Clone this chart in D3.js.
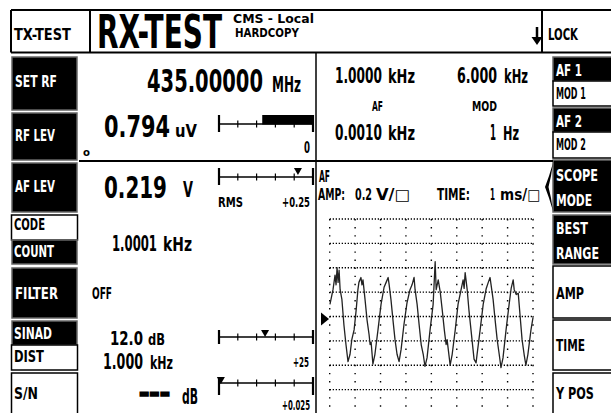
<!DOCTYPE html>
<html><head><meta charset="utf-8">
<script src="https://cdn.jsdelivr.net/npm/d3@7"></script>
<style>html,body{margin:0;padding:0;background:#fff;overflow:hidden}</style>
</head><body>
<svg id="c" width="611" height="413"></svg>
<script>
// ---------- DATA ----------
const traceTime = [0.01,0.13,0.21,0.25,0.29,0.33,0.37,0.41,0.48,0.56,0.64,0.72,0.80,0.87,0.96,1.04,1.11,1.15,1.23,1.27,1.31,1.39,1.47,1.55,1.59,1.63,1.70,1.78,1.90,2.02,2.14,2.22,2.30,2.34,2.41,2.49,2.57,2.65,2.73,2.81,2.92,3.04,3.16,3.24,3.32,3.36,3.44,3.52,3.60,3.68,3.75,3.83,3.95,4.07,4.15,4.19,4.23,4.27,4.35,4.43,4.51,4.58,4.62,4.74,4.82,4.94,5.05,5.17,5.25,5.29,5.33,5.41,5.48,5.56,5.64,5.68,5.76,5.80,5.92,6.04,6.16,6.24,6.31,6.35,6.43,6.51,6.59,6.67,6.74,6.82,6.94,7.06,7.14,7.22,7.26,7.34,7.42,7.49,7.57,7.65,7.72,7.80,7.92,8.00];
const traceVolts = [0.10,0.22,0.34,0.26,0.40,0.28,0.38,0.22,0.14,-0.07,-0.23,-0.37,-0.31,-0.19,-0.11,0.05,0.22,0.28,0.32,0.26,0.30,0.14,-0.03,-0.15,-0.23,-0.21,-0.39,-0.31,-0.11,0.10,0.24,0.28,0.32,0.26,0.14,-0.03,-0.19,-0.31,-0.37,-0.27,-0.07,0.11,0.22,0.26,0.32,0.22,0.10,-0.07,-0.23,-0.31,-0.41,-0.34,-0.11,0.10,0.45,0.22,0.26,0.30,0.20,0.05,-0.11,-0.23,-0.19,-0.40,-0.31,-0.11,0.10,0.22,0.30,0.23,0.36,0.22,0.05,-0.11,-0.27,-0.35,-0.38,-0.31,-0.11,0.10,0.23,0.28,0.32,0.26,0.14,-0.03,-0.19,-0.31,-0.42,-0.34,-0.11,0.10,0.23,0.30,0.22,0.18,0.19,0.01,-0.19,-0.31,-0.40,-0.31,-0.11,-0.01];
const gridTimeTicks = [0,1,2,3,4,5,6,7,8];          // ms (1 ms/div)
const gridVoltTicks = [-0.6,-0.4,-0.2,0,0.2,0.4,0.6,0.8]; // V (0.2 V/div)
const meterTicks = [0,1,2,3,4,5];
const rfLevelBar = [2.3, 5];
const afLevMarker = 4.2;
const sinadMarker = 2.45;
const snMarker = 0.1;
const leftKeys = ["SET RF","RF LEV","AF LEV","CODE","COUNT","FILTER","SINAD","DIST","S/N"];
const rightKeys = ["AF 1","MOD 1","AF 2","MOD 2","SCOPE","MODE","BEST","RANGE","AMP","TIME","Y POS"];

// ---------- DRAW ----------
const FONT = "'DejaVu Sans Condensed','DejaVu Sans',sans-serif";
const svg = d3.select('#c').attr('font-family', FONT).attr('font-weight','bold');
svg.append('rect').attr('width',611).attr('height',413).attr('fill','#fff');

// text fitted to a target width by a horizontal scale
function txt(s, x, y, size, opt={}) {
  const g = svg.append('g').attr('transform', `translate(${x},${y})`);
  const t = g.append('text').attr('x',0).attr('y',0).attr('font-size',size).text(s)
    .attr('fill', opt.fill||'#000').attr('text-anchor', opt.anchor||'start');
  if (opt.stroke) t.attr('stroke', opt.fill||'#000').attr('stroke-width', opt.stroke);
  if (opt.w) {
    const nat = t.node().getComputedTextLength();
    if (nat > 0) g.attr('transform', `translate(${x},${y}) scale(${opt.w/nat},1)`);
  }
  return t;
}
function line(x1,y1,x2,y2,w=1.5,c='#000'){
  svg.append('line').attr('x1',x1).attr('y1',y1).attr('x2',x2).attr('y2',y2)
    .attr('stroke',c).attr('stroke-width',w);
}
function box(x,y,w,h,black){
  svg.append('rect').attr('x',x).attr('y',y).attr('width',w).attr('height',h)
    .attr('fill', black?'#000':'#fff').attr('stroke', black?'#666':'#000').attr('stroke-width',1.5);
}

// header
line(11,10,611,10,2); line(11,52.5,611,52.5,2);
line(11,10,11,52.5,2); line(90,10,90,52.5,2); line(542,10,542,52.5,2);
txt("TX-TEST",14,40,16,{w:57});
txt("RX-TEST",97,48,46,{w:125});
txt("CMS - Local",233,22.5,12.5,{w:81});
txt("HARDCOPY",235,36.5,12.5,{w:64});
txt("LOCK",548,40,16,{w:30});
svg.append('line').attr('x1',537).attr('y1',27).attr('x2',537).attr('y2',39).attr('stroke','#000').attr('stroke-width',2.5);
svg.append('path').attr('d','M531.5,37 L542.5,37 L537,45 Z').attr('fill','#000');

// left buttons
box(12,57,65,53,true);  txt(leftKeys[0],15,87,16.5,{w:42,fill:'#fff'});
box(12,113,65,47,true); txt(leftKeys[1],15,141,16.5,{w:40,fill:'#fff'});
box(12,163,65,49,true); txt(leftKeys[2],15,192,16.5,{w:40,fill:'#fff'});
box(11.5,215,66,25,false); box(12,240,65,24,true);
txt(leftKeys[3],14,230,16.5,{w:31}); txt(leftKeys[4],14,257,16.5,{w:40,fill:'#fff'});
box(12,268,65,50,true); txt(leftKeys[5],15,299,16.5,{w:43,fill:'#fff'});
box(12,321,65,24,true); box(11.5,345,66,25,false);
txt(leftKeys[6],14,339,16.5,{w:38,fill:'#fff'}); txt(leftKeys[7],14,362,16.5,{w:30});
box(11.5,373,66,45,false); txt(leftKeys[8],14,399,16.5,{w:24});

// right buttons
box(553,57,62,24,true); box(553,81,62,25,false);
txt(rightKeys[0],556,76,16.5,{w:26,fill:'#fff'}); txt(rightKeys[1],556,99,16.5,{w:30});
box(553,108,62,24,true); box(553,132,62,26,false);
txt(rightKeys[2],556,127,16.5,{w:26,fill:'#fff'}); txt(rightKeys[3],556,150,16.5,{w:30});
box(553,160,62,52,true);
txt(rightKeys[4],556,181,16.5,{w:42,fill:'#fff'}); txt(rightKeys[5],556,206,16.5,{w:36,fill:'#fff'});
box(553,215,62,49,true);
txt(rightKeys[6],556,234,16.5,{w:32,fill:'#fff'}); txt(rightKeys[7],556,259,16.5,{w:43,fill:'#fff'});
box(553,266,62,52,false); txt(rightKeys[8],556,299,16.5,{w:28});
box(553,320,62,50,false); txt(rightKeys[9],556,351,16.5,{w:29});
box(553,373,62,45,false); txt(rightKeys[10],556,399,16.5,{w:38});
// scope bracket
svg.append('path').attr('d','M553,163 L549,176 L545,187 L549,198 L553,211 L551,198 L548.5,187 L551,176 Z').attr('fill','#000');

// main frame lines
line(316,52.5,316,413,1.5);
line(79,161,553,161,1.8);

// readouts
txt("435.00000",147,92,32,{w:116}); txt("MHz",272,92,22,{w:29});
txt("1.0000",335,83,22,{w:47}); txt("kHz",388,83,20,{w:27});
txt("6.000",457,83,22,{w:40}); txt("kHz",504,83,20,{w:24});
txt("AF",372,111,14,{w:11});
txt("MOD",472,111,14,{w:25});
txt("0.0010",335,140,22,{w:47}); txt("kHz",388,140,20,{w:27});
txt("1",490,140,22,{w:6}); txt("Hz",503,140,20,{w:16});

txt("o",83,156,11,{w:7});
txt("0.794",104,137,30,{w:66}); txt("uV",175,137,18,{w:22});
txt("0.219",104,198,31,{w:63}); txt("V",183,197,21,{w:10});
txt("1.0001",112,251,21,{w:45}); txt("kHz",163,251,19,{w:29});
txt("OFF",92,299,15,{w:20});
txt("12.0",110,344.5,20,{w:33}); txt("dB",148,344.5,16,{w:17});
txt("1.000",103,368.5,21,{w:40}); txt("kHz",150,368.5,18,{w:23});
txt("---",139,402,26,{w:31,stroke:1.6}); txt("dB",182,404,21,{w:16});

// meters
const mx = d3.scaleLinear().domain([0,5]).range([219,313]);
function meter(y, endUp, endDn){
  line(mx(0),y,mx(5),y,1.5);
  meterTicks.forEach(t=>{
    if (t===0||t===5) line(mx(t),y-endUp,mx(t),y+endDn,2.2);
    else line(mx(t),y-3.5,mx(t),y+3.5,1.2);
  });
}
function marker(v,yTop){
  const x = mx(v);
  svg.append('path').attr('d',`M${x-4},${yTop} L${x+4},${yTop} L${x},${yTop+7} Z`).attr('fill','#000');
}
// RF LEV
meter(124,9,8);
svg.append('rect').attr('x',mx(rfLevelBar[0])).attr('y',115).attr('width',mx(rfLevelBar[1])-mx(rfLevelBar[0])).attr('height',9.5).attr('fill','#000');
txt("0",310,153,15,{anchor:'end',w:6});
// AF LEV
meter(177,9,8); marker(afLevMarker,168);
txt("RMS",218,207,14,{w:25});
txt("+0.25",310,207,14,{anchor:'end',w:28});
// SINAD
meter(337,7,7); marker(sinadMarker,330);
txt("+25",309,367,14,{anchor:'end',w:16});
// S/N
meter(383,6,12); marker(snMarker,377);
txt("+0.025",310,409.5,13.5,{anchor:'end',w:28});

// scope header
txt("AF",319,182,15,{w:11});
txt("AMP:",318,200,15,{w:27});
txt("0.2",355,200,15,{w:17});
txt("V/□",376,200,15,{w:34});
txt("TIME:",437,200,15,{w:33});
txt("1",490,200,15,{w:5});
txt("ms/□",500,200,15,{w:40});

// scope
const x = d3.scaleLinear().domain([0,8]).range([329.7,533]);
const y = d3.scaleLinear().domain([-0.8,0.8]).range([414,219]);
const grid = svg.append('g');
grid.selectAll('.h').data(gridVoltTicks).join('line')
  .attr('x1',x(0)).attr('x2',x(8)+1).attr('y1',d=>y(d)).attr('y2',d=>y(d))
  .attr('stroke','#000').attr('stroke-width',1.4).attr('stroke-dasharray','1.3,1.7');
grid.selectAll('.v').data(gridTimeTicks).join('line')
  .attr('x1',d=>x(d)).attr('x2',d=>x(d)).attr('y1',y(0.8)).attr('y2',413)
  .attr('stroke','#000').attr('stroke-width',1.4).attr('stroke-dasharray','1.4,6.7');
svg.append('path')
  .datum(traceTime.map((t,i)=>[t,traceVolts[i]]))
  .attr('d', d3.line().x(d=>x(d[0])).y(d=>y(d[1])))
  .attr('fill','none').attr('stroke','#222').attr('stroke-width',1.3).attr('stroke-linejoin','round');
// trigger level marker
svg.append('path').attr('d',`M321,${y(0)-4} L329,${y(0)+2.5} L321,${y(0)+9} Z`).attr('fill','#000');
</script>
</body></html>
